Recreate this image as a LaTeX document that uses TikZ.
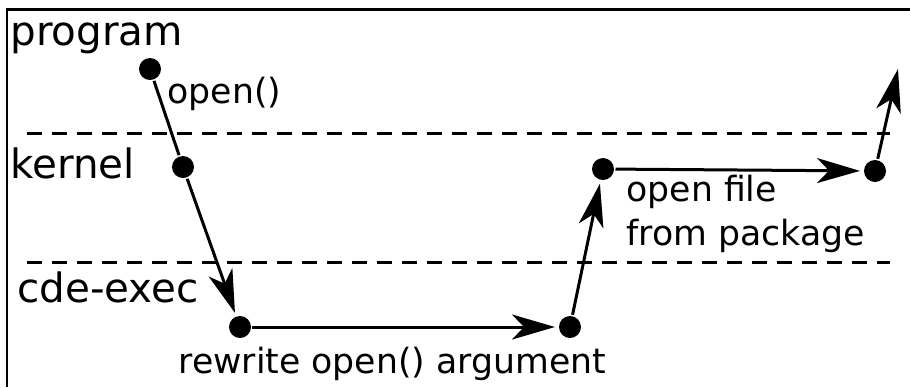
\documentclass[tikz,border=0pt]{standalone}
\usepackage{fontspec}
\setmainfont{DejaVu Sans}
\usetikzlibrary{arrows.meta}

\begin{document}
\begin{tikzpicture}[x={0.02cm},y={-0.02cm},line width=0.06cm,
  dot/.style={circle,fill=black,inner sep=0pt,minimum size=0.44cm},
  layer/.style={anchor=base west,inner sep=0pt,font=\fontsize{23}{27}\selectfont},
  note/.style={anchor=base west,inner sep=0pt,align=left,font=\fontsize{19.75}{24.5}\selectfont},
  tip/.style={-{Stealth[length=0.86cm,width=0.5cm,inset=0.24cm]},shorten >=0.05cm}]
\useasboundingbox (0,0) rectangle (910,387);
\draw (7,387) -- (7,9) -- (910,9);
\foreach \y in {133,262} {
\draw[dash pattern=on 0.3cm off 0.2cm] (27,\y) -- (890,\y);
}
\node[layer] (program) at (9,45) {program};
\node[layer] (kernel) at (9,178) {kernel};
\node[layer] (cdeexec) at (16,302) {cde-exec};
\node[note] (open) at (166,103) {open()};
\node[note] (rewrite) at (177,373) {rewrite open() argument};
\node[note] (pkgfile) at (625,245) {open file\\from package};

\node[dot] (call) at (150,69) {};
\node[dot] (trap) at (183,167) {};
\node[dot] (rewr) at (240,327) {};
\node[dot] (pass) at (570,327) {};
\node[dot] (sys) at (603,169) {};
\node[dot] (ret) at (875,171) {};
\coordinate (back) at (898,69);

\draw (call) -- (trap);
\draw[tip] (trap) -- (rewr);
\draw[tip] (rewr) -- (pass);
\draw[tip] (pass) -- (sys);
\draw[tip] (sys) -- (ret);
\draw[tip,shorten >=0pt] (ret) -- (back);
\end{tikzpicture}
\end{document}
